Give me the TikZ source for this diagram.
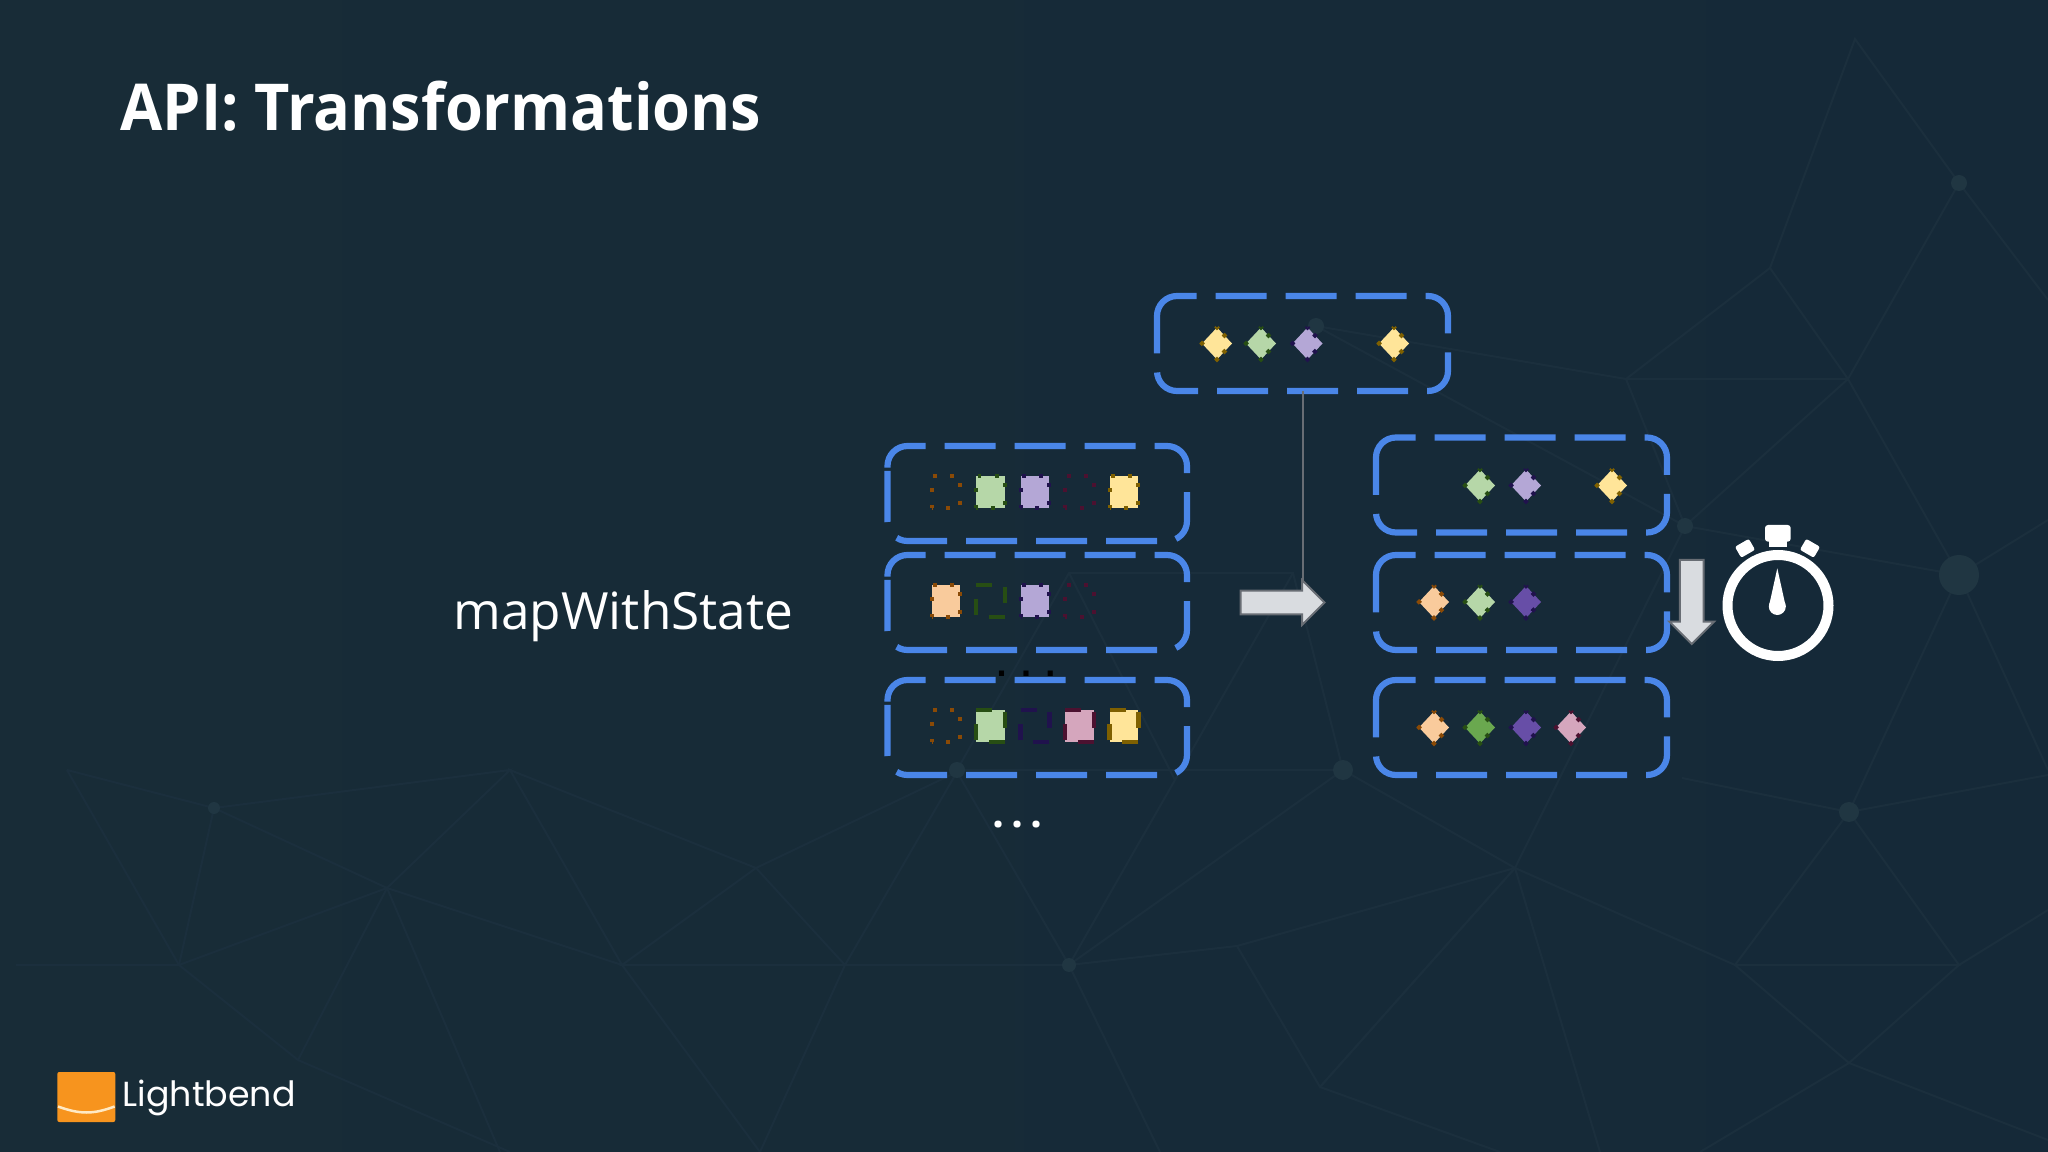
\documentclass[tikz,border=0pt]{standalone}
\usepackage{fontspec}
\setmainfont{Open Sans}
\newfontfamily\titlefont{Open Sans}[FakeStretch=0.946]
\newfontfamily\logofont{Poppins}
\newfontfamily\squarefont{DejaVu Sans}
\usetikzlibrary{calc,shapes.arrows}

\definecolor{slidebg}{HTML}{152938}
\definecolor{slidebgl}{HTML}{182C37}
\definecolor{meshcol}{HTML}{1B2F3D}
\definecolor{meshdot}{HTML}{203642}
\definecolor{boxblue}{HTML}{4A86E8}
\definecolor{arrowfill}{HTML}{D9DCE0}
\definecolor{arrowline}{HTML}{686D74}
\definecolor{logoorange}{HTML}{F7941E}
\definecolor{logocurve}{HTML}{FFE9C4}
\definecolor{lgreen}{HTML}{B6D7A8}
\definecolor{dgreen}{HTML}{274E13}
\definecolor{sgreen}{HTML}{6AA84F}
\definecolor{lpurple}{HTML}{B4A7D6}
\definecolor{dpurple}{HTML}{20124D}
\definecolor{spurple}{HTML}{674EA7}
\definecolor{lyellow}{HTML}{FFE599}
\definecolor{dyellow}{HTML}{7F6000}
\definecolor{lorange}{HTML}{F9CB9C}
\definecolor{dorange}{HTML}{8A4A06}
\definecolor{lpink}{HTML}{D5A6BD}
\definecolor{dpink}{HTML}{4C1130}

\tikzset{
	titletext/.style={text=white, inner sep=0, font=\titlefont\fontsize{18.4}{22}\selectfont\bfseries},
	labeltext/.style={text=white, inner sep=0, font=\fontsize{14.6}{18}\selectfont},
	logotext/.style={text=white, inner sep=0, font=\logofont\fontsize{9.9}{11}\selectfont},
	boxarea/.style={inner sep=0, outer sep=0, minimum height=.95cm},
	boxline/.style={draw=boxblue, line width=.062cm, rounded corners=.2cm, dash pattern=on .51cm off .19cm},
	dotedge/.style={line width=.04cm, dash pattern=on .04cm off .133cm, dash phase=.013cm},
	longedge/.style={line width=.045cm, dash pattern=on .16cm off .143cm, dash phase=.286cm},
	tipedge/.style={line width=.04cm, dash phase=.02cm, dash pattern=on .04cm off .07cm on .04cm off .18cm on .04cm off .07cm on .04cm off .18cm on .04cm off .18cm},
	blockarrow/.style={single arrow, draw=arrowline, fill=arrowfill, line width=.02cm, outer sep=0, minimum height=.84cm, single arrow head extend=.105cm},
	wire/.style={draw=arrowline, line width=.02cm},
	meshline/.style={draw=meshcol, line width=.02cm}
}

\def\boxcw(#1){\draw[boxline] ($(#1.north west)+(0,.2)$) -- (#1.north west) -- (#1.north east) -- (#1.south east) -- (#1.south west) -- ($(#1.north west)+(0,.2)$);}
\def\boxccw(#1){\draw[boxline] ($(#1.north west)+(0,.25)$) -- (#1.south west) -- (#1.south east) -- (#1.north east) -- (#1.north west) -- ($(#1.north west)+(0,.25)$);}
\def\itembox(#1,#2)[#3][#4][#5]{\draw[#5, fill=#3, draw=#4] (#1-.143,#2+.16) -- (#1-.143,#2-.16) -- (#1+.143,#2-.16) -- (#1+.143,#2+.16) -- cycle;}
\def\itemtip(#1,#2)[#3][#4]{\draw[tipedge, fill=#3, draw=#4] (#1,#2-.16) -- (#1+.15,#2) -- (#1,#2+.16) -- (#1-.15,#2) -- cycle;}

\begin{document}
\begin{tikzpicture}[x=1cm, y=-1cm]
	\useasboundingbox (0, 0) rectangle (20.48, 11.52);
	\fill[left color=slidebgl, right color=slidebg] (0, 0) rectangle (20.48, 11.52);

	%%%%% MESH %%%%%
	\draw[meshline] (.67, 7.7) -- (2.14, 8.08) -- (5.1, 7.7) -- (3.87, 8.88) -- (1.79, 9.65) -- (.67, 7.7);
	\draw[meshline] (2.14, 8.08) -- (3.87, 8.88) -- (6.22, 9.65) -- (5.1, 7.7) -- (7.56, 8.68) -- (6.22, 9.65) -- (8.45, 9.65) -- (7.56, 8.68);
	\draw[meshline] (2.14, 8.08) -- (1.79, 9.65) -- (.16, 9.65);
	\draw[meshline] (1.79, 9.65) -- (2.98, 10.6) -- (3.87, 8.88) -- (5, 11.52);
	\draw[meshline] (2.98, 10.6) -- (5.1, 11.52);
	\draw[meshline] (6.22, 9.65) -- (7.6, 11.52);
	\draw[meshline] (8.45, 9.65) -- (7.6, 11.52);
	\draw[meshline] (7.56, 8.68) -- (9.57, 7.72);
	\draw[meshline] (8.45, 9.65) -- (9.57, 7.72) -- (10.69, 9.65);
	\draw[meshline] (8.45, 9.65) -- (10.69, 9.65) -- (12.37, 9.46) -- (15.15, 8.68) -- (13.43, 7.7) -- (10.69, 9.65);
	\draw[meshline] (9.57, 7.7) -- (13.43, 7.7);
	\draw[meshline] (12.37, 9.46) -- (13.2, 10.87) -- (15.15, 8.68) -- (17.35, 9.65) -- (18.49, 8.12) -- (19.59, 9.65) -- (17.35, 9.65);
	\draw[meshline] (13.43, 7.7) -- (12.93, 5.73) -- (10.69, 5.73) -- (9.57, 7.7);
	\draw[meshline] (10.69, 5.73) -- (11.75, 7.8);
	\draw[meshline] (12.93, 5.73) -- (11.75, 7.8) -- (10.69, 9.65) -- (11.6, 11.52);
	\draw[meshline] (13.2, 10.87) -- (15.15, 8.68);
	\draw[meshline] (13.2, 10.87) -- (15, 11.52);
	\draw[meshline] (18.49, 8.12) -- (16.82, 7.78);
	\draw[meshline] (18.49, 8.12) -- (20.48, 7.75);
	\draw[meshline] (19.59, 9.65) -- (20.48, 9.1);
	\draw[meshline] (17.35, 9.65) -- (18.49, 10.63) -- (19.59, 9.65);
	\draw[meshline] (15.15, 8.68) -- (16, 11.52);
	\draw[meshline] (18.49, 10.63) -- (17, 11.52);
	\draw[meshline] (18.49, 10.63) -- (20.48, 11.4);
	\draw[meshline] (13.16, 3.26) -- (16.26, 3.79) -- (18.48, 3.79) -- (19.59, 1.83) -- (18.55, .39) -- (17.7, 2.68) -- (18.48, 3.79);
	\draw[meshline] (16.26, 3.79) -- (17.7, 2.68);
	\draw[meshline] (13.16, 3.26) -- (16.85, 5.26) -- (18.48, 3.79) -- (19.59, 5.75) -- (16.85, 5.26) -- (16.26, 3.79);
	\draw[meshline] (19.59, 1.83) -- (20.48, 3);
	\draw[meshline] (19.59, 5.75) -- (20.48, 5.2);
	\draw[meshline] (19.59, 5.75) -- (18.49, 8.12);
	\draw[meshline] (19.59, 5.75) -- (20.48, 7.7);
	\draw[meshline] (16.85, 5.26) -- (15.15, 8.68);
	\fill[meshdot] (2.14, 8.08) circle (.06);
	\fill[meshdot] (9.57, 7.7) circle (.08);
	\fill[meshdot] (13.43, 7.7) circle (.1);
	\fill[meshdot] (18.49, 8.12) circle (.1);
	\fill[meshdot] (10.69, 9.65) circle (.07);
	\fill[meshdot] (19.59, 5.75) circle (.2);
	\fill[meshdot] (19.59, 1.83) circle (.08);
	\fill[meshdot] (16.85, 5.26) circle (.08);
	\fill[meshdot] (13.16, 3.26) circle (.08);

	%%%%% TEXT %%%%%
	\node[titletext, anchor=base west] (title) at (1.2, 1.31) {API: Transformations};
	\node[labeltext, anchor=base west] (opname) at (4.53, 6.3) {mapWithState};
	\node[text=black, inner sep=0, font=\squarefont\bfseries\fontsize{8.2}{10}\selectfont] (hiddendots) at (10.26, 6.74) {. . .};
	\node[text=white, inner sep=0, font=\bfseries\fontsize{12}{14}\selectfont] (moredots) at (10.176, 8.25) {.\kern.07cm.\kern.07cm.};

	%%%%% BOXES %%%%%
	\node[boxarea, minimum width=2.91cm] (topbox) at (13.025, 3.435) {};
	\node[boxarea, minimum width=2.995cm] (leftbox1) at (10.3725, 4.935) {};
	\node[boxarea, minimum width=2.995cm] (leftbox2) at (10.3725, 6.025) {};
	\node[boxarea, minimum width=2.995cm] (leftbox3) at (10.3725, 7.275) {};
	\node[boxarea, minimum width=2.91cm] (rightbox1) at (15.215, 4.85) {};
	\node[boxarea, minimum width=2.91cm] (rightbox2) at (15.215, 6.025) {};
	\node[boxarea, minimum width=2.91cm] (rightbox3) at (15.215, 7.275) {};
	\boxcw(topbox);
	\boxccw(leftbox1);
	\boxccw(leftbox2);
	\boxccw(leftbox3);
	\boxcw(rightbox1);
	\boxcw(rightbox2);
	\boxcw(rightbox3);

	%%%%% ITEMS %%%%%
	\itemtip(12.17,3.435)[lyellow][dyellow];
	\itemtip(12.61,3.435)[lgreen][dgreen];
	\itemtip(13.075,3.435)[lpurple][dpurple];
	\itemtip(13.94,3.435)[lyellow][dyellow];

	\itembox(9.46,4.92)[none][dorange][dotedge];
	\itembox(9.905,4.92)[lgreen][dgreen][dotedge];
	\itembox(10.35,4.92)[lpurple][dpurple][dotedge];
	\itembox(10.795,4.92)[none][dpink][dotedge];
	\itembox(11.24,4.92)[lyellow][dyellow][dotedge];

	\itembox(9.46,6.01)[lorange][dorange][dotedge];
	\itembox(9.905,6.01)[none][dgreen][longedge];
	\itembox(10.35,6.01)[lpurple][dpurple][dotedge];
	\itembox(10.795,6.01)[none][dpink][dotedge];

	\itembox(9.46,7.26)[none][dorange][dotedge];
	\itembox(9.905,7.26)[lgreen][dgreen][longedge];
	\itembox(10.35,7.26)[none][dpurple][longedge];
	\itembox(10.795,7.26)[lpink][dpink][longedge];
	\itembox(11.24,7.26)[lyellow][dyellow][longedge];

	\itemtip(14.8,4.855)[lgreen][dgreen];
	\itemtip(15.26,4.855)[lpurple][dpurple];
	\itemtip(16.12,4.855)[lyellow][dyellow];

	\itemtip(14.34,6.02)[lorange][dorange];
	\itemtip(14.8,6.02)[lgreen][dgreen];
	\itemtip(15.26,6.02)[spurple][dpurple];

	\itemtip(14.34,7.275)[lorange][dorange];
	\itemtip(14.8,7.275)[sgreen][dgreen];
	\itemtip(15.26,7.275)[spurple][dpurple];
	\itemtip(15.71,7.275)[lpink][dpink];

	%%%%% ARROWS %%%%%
	\coordinate (wireend) at (13.025, 5.85);
	\draw[wire] (topbox.south) -- (wireend);
	\node[blockarrow, inner xsep=0, inner ysep=.108cm, anchor=tip] (mergearrow) at (13.245, 6.025) {};
	\node[blockarrow, inner ysep=0, inner xsep=.108cm, anchor=tip, shape border rotate=270] (timearrow) at (16.917, 6.44) {};

	%%%%% WATCH %%%%%
	\draw[white, line width=.1cm] (17.78, 6.055) circle (.505);
	\fill[white, rounded corners=.03cm] (17.65, 5.25) rectangle (17.907, 5.417);
	\fill[white] (17.69, 5.4) rectangle (17.867, 5.47);
	\fill[white, rounded corners=.02cm, rotate around={30:(17.45, 5.483)}] (17.37, 5.42) rectangle (17.53, 5.546);
	\fill[white, rounded corners=.02cm, rotate around={-30:(18.1, 5.483)}] (18.02, 5.42) rectangle (18.18, 5.546);
	\fill[white] (17.773, 5.683) -- (17.69, 6.06) -- (17.856, 6.06) -- cycle;
	\fill[white] (17.773, 6.065) circle (.085);

	%%%%% LOGO %%%%%
	\fill[logoorange, rounded corners=.02cm] (.573, 10.72) rectangle (1.153, 11.22);
	\draw[logocurve, line width=.025cm] (.58, 11.065) .. controls (.8, 11.145) and (.93, 11.145) .. (1.146, 11.065);
	\node[logotext, anchor=base west] (logoname) at (1.22, 11.067) {Lightbend};
\end{tikzpicture}
\end{document}
